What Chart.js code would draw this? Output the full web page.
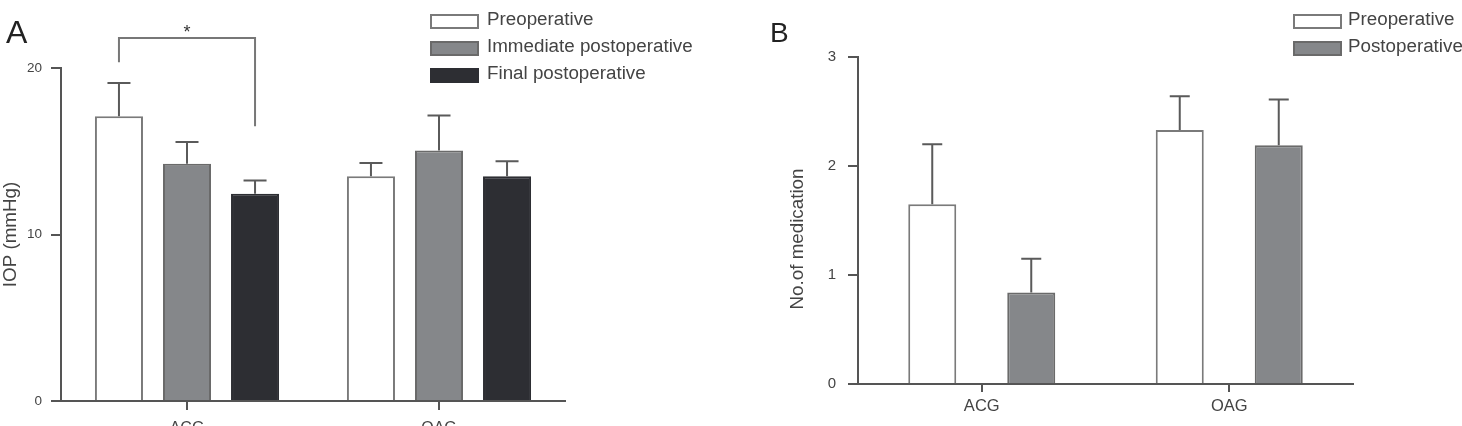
<!DOCTYPE html>
<html><head><meta charset="utf-8">
<script src="https://cdn.jsdelivr.net/npm/chart.js@4.4.1/dist/chart.umd.min.js"></script>
<style>
html,body{margin:0;padding:0;background:#fff;}
body{width:1462px;height:426px;position:relative;overflow:hidden;font-family:'Liberation Sans',Arial,sans-serif;}
#cA{position:absolute;left:0;top:0;}
#cB{position:absolute;left:740px;top:0;}
.lbl{position:absolute;line-height:1;color:#222;white-space:nowrap;}
.leg{position:absolute;line-height:1;font-size:18.8px;color:#444;white-space:nowrap;}
.box{position:absolute;box-sizing:border-box;border:2px solid #7a7a7a;width:49px;height:15px;}
.ytitle{position:absolute;line-height:1;font-size:18.8px;color:#444;white-space:nowrap;transform:translate(-50%,-50%) rotate(-90deg);}
</style></head><body>
<canvas id="cA" width="740" height="426"></canvas>
<canvas id="cB" width="722" height="426"></canvas>
<div class="lbl" style="left:6px;top:16px;font-size:32px">A</div>
<div class="lbl" style="left:770px;top:19px;font-size:28px">B</div>
<div class="ytitle" style="left:797px;top:239px">No.of medication</div>

<div class="box" style="left:430px;top:14px;background:#fff"></div>
<div class="leg" style="left:487px;top:10px">Preoperative</div>
<div class="box" style="left:430px;top:41px;background:#85878a;border-color:#6a6a6a"></div>
<div class="leg" style="left:487px;top:37px">Immediate postoperative</div>
<div class="box" style="left:430px;top:68px;background:#2d2e33;border-color:#2d2e33"></div>
<div class="leg" style="left:487px;top:64px">Final postoperative</div>

<div class="box" style="left:1293px;top:14px;background:#fff"></div>
<div class="leg" style="left:1348px;top:10px">Preoperative</div>
<div class="box" style="left:1293px;top:41px;background:#85878a;border-color:#6a6a6a"></div>
<div class="leg" style="left:1348px;top:37px">Postoperative</div>

<script>
// ---------- data ----------
const categories = ['ACG', 'OAG'];
// Panel A: IOP (mmHg), mean and upper error
const iopPre      = [17.1, 13.5];
const iopPreErr   = [2.0, 0.8];
const iopImm      = [14.25, 15.05];
const iopImmErr   = [1.3, 2.1];
const iopFinal    = [12.45, 13.5];
const iopFinalErr = [0.8, 0.9];
const iopTicks    = [0, 10, 20];
// significance bracket (values on IOP axis): left leg end, bracket top, right leg end, star
const sigBracket  = [20.35, 21.8, 16.5, 22.3];
// Panel B: number of medications
const medPre      = [1.65, 2.33];
const medPreErr   = [0.55, 0.31];
const medPost     = [0.84, 2.19];
const medPostErr  = [0.31, 0.42];
const medTicks    = [0, 1, 2, 3];

// ---------- styles ----------
Chart.defaults.font.family = "'Liberation Sans', Arial, sans-serif";
Chart.defaults.color = '#444';
const AX = '#555';
const WHITE = {backgroundColor:'#ffffff', borderColor:'#7a7a7a'};
const GRAY  = {backgroundColor:'#85878a', borderColor:'#6a6a6a'};
const DARK  = {backgroundColor:'#2d2e33', borderColor:'#2d2e33'};

const errorBars = {
  id: 'errorBars',
  afterDatasetsDraw(chart, args, opts) {
    const ctx = chart.ctx, y = chart.scales.y;
    chart.data.datasets.forEach((ds, i) => {
      const meta = chart.getDatasetMeta(i);
      meta.data.forEach((bar, j) => {
        const top = y.getPixelForValue(ds.data[j] + ds.err[j]);
        ctx.save();
        ctx.strokeStyle = opts.color; ctx.lineWidth = opts.width;
        ctx.beginPath();
        ctx.moveTo(bar.x, bar.y); ctx.lineTo(bar.x, top);
        ctx.moveTo(bar.x - opts.cap / 2, top); ctx.lineTo(bar.x + opts.cap / 2, top);
        ctx.stroke();
        ctx.restore();
      });
    });
  }
};

const bracketPlugin = {
  id: 'sigBracket',
  afterDraw(chart, args, opts) {
    if (!opts.values) return;
    const ctx = chart.ctx, y = chart.scales.y;
    const x1 = chart.getDatasetMeta(opts.from).data[0].x;
    const x2 = chart.getDatasetMeta(opts.to).data[0].x;
    const v = opts.values;
    ctx.save();
    ctx.strokeStyle = '#777'; ctx.lineWidth = 2;
    ctx.beginPath();
    ctx.moveTo(x1, y.getPixelForValue(v[0]));
    ctx.lineTo(x1, y.getPixelForValue(v[1]));
    ctx.lineTo(x2, y.getPixelForValue(v[1]));
    ctx.lineTo(x2, y.getPixelForValue(v[2]));
    ctx.stroke();
    ctx.fillStyle = '#333';
    ctx.font = "18px 'Liberation Sans', Arial, sans-serif";
    ctx.textAlign = 'center'; ctx.textBaseline = 'middle';
    ctx.fillText(opts.label, (x1 + x2) / 2, y.getPixelForValue(v[3]) + 3);
    ctx.restore();
  }
};

function makeChart(id, datasets, ticks, yTitle, cfg) {
  return new Chart(document.getElementById(id), {
    type: 'bar',
    data: { labels: categories, datasets },
    plugins: [errorBars, bracketPlugin],
    options: {
      responsive: false, animation: false,
      layout: { padding: { top: cfg.top, right: cfg.right, left: 0, bottom: 0 } },
      datasets: { bar: { categoryPercentage: cfg.catPct, barPercentage: cfg.barPct, borderWidth: 2 } },
      plugins: {
        legend: { display: false }, tooltip: { enabled: false },
        errorBars: { color: '#5a5a5a', width: 2, cap: cfg.cap },
        sigBracket: cfg.bracket || {}
      },
      scales: {
        x: {
          afterFit: s => { s.height = cfg.xh; },
          grid: { display: true, drawOnChartArea: false, drawTicks: true, tickLength: cfg.xTick, color: AX, lineWidth: 2, offset: false },
          border: { display: true, color: AX, width: 2 },
          ticks: { font: { size: cfg.xFont }, color: '#444', padding: cfg.xPad, maxRotation: 0 }
        },
        y: {
          min: ticks[0], max: ticks[ticks.length - 1],
          afterFit: s => { s.width = cfg.yw; },
          afterBuildTicks: s => { s.ticks = ticks.map(v => ({ value: v })); },
          grid: { display: true, drawOnChartArea: false, drawTicks: true, tickLength: 10, color: AX, lineWidth: 2 },
          border: { display: true, color: AX, width: 2 },
          ticks: { font: { size: cfg.yFont }, color: '#444', padding: cfg.yPad },
          title: { display: !!yTitle, text: yTitle || '', font: { size: 18.8 }, color: '#444', padding: { top: 0, bottom: 0 } }
        }
      }
    }
  });
}

makeChart('cA', [
  Object.assign({ label: 'Preoperative', data: iopPre, err: iopPreErr }, WHITE),
  Object.assign({ label: 'Immediate postoperative', data: iopImm, err: iopImmErr }, GRAY),
  Object.assign({ label: 'Final postoperative', data: iopFinal, err: iopFinalErr }, DARK)
], iopTicks, 'IOP (mmHg)', {
  top: 68, right: 175, yw: 61, xh: 25, catPct: 0.81, barPct: 0.706, cap: 23,
  xTick: 9, xPad: 9, xFont: 16, yFont: 13.5, yPad: 9,
  bracket: { from: 0, to: 2, values: sigBracket, label: '*' }
});

makeChart('cB', [
  Object.assign({ label: 'Preoperative', data: medPre, err: medPreErr }, WHITE),
  Object.assign({ label: 'Postoperative', data: medPost, err: medPostErr }, GRAY)
], medTicks, '', {
  top: 57, right: 109, yw: 118, xh: 42, catPct: 0.8, barPct: 0.485, cap: 20,
  xTick: 8, xPad: 5, xFont: 16.5, yFont: 15, yPad: 12
});
</script>
</body></html>
